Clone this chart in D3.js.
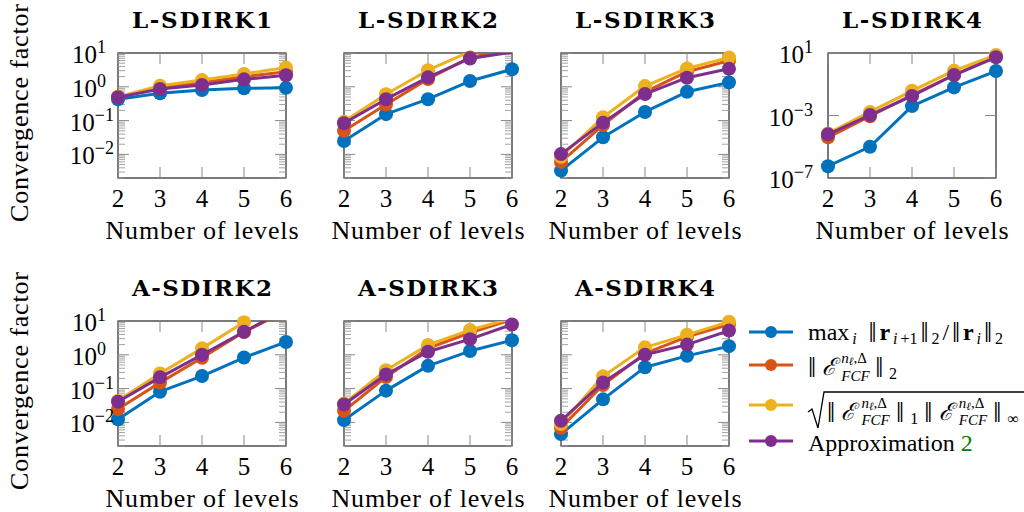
<!DOCTYPE html>
<html><head><meta charset="utf-8">
<script src="https://cdn.jsdelivr.net/npm/d3@7"></script>
<style>html,body{margin:0;padding:0;background:#fff;} svg{display:block}</style>
</head><body>
<svg id="chart" width="1024" height="512"></svg>
<script>
// ---------------- data ----------------
const levels = [2, 3, 4, 5, 6];
const methods = ["L-SDIRK1", "L-SDIRK2", "L-SDIRK3", "L-SDIRK4", "A-SDIRK2", "A-SDIRK3", "A-SDIRK4"];
// max_i ||r_{i+1}|| / ||r_i||
const residualRatio = [
  [0.43, 0.64, 0.80, 0.90, 0.93],
  [0.025, 0.155, 0.43, 1.48, 3.3],
  [0.0033, 0.032, 0.18, 0.71, 1.35],
  [5.7e-7, 1.0e-5, 4.0e-3, 0.063, 0.70],
  [0.0123, 0.081, 0.235, 0.83, 2.4],
  [0.0117, 0.087, 0.47, 1.29, 2.7],
  [0.0045, 0.048, 0.43, 0.93, 1.8]
];
// ||E_FCF||_2
const normTwo = [
  [0.50, 0.95, 1.35, 2.0, 2.8],
  [0.05, 0.30, 1.7, 7.4, 13],
  [0.006, 0.074, 0.70, 2.8, 5.9],
  [4.0e-5, 9.0e-4, 0.020, 0.39, 6.4],
  [0.025, 0.15, 0.82, 4.7, 20],
  [0.022, 0.22, 1.56, 4.5, 11],
  [0.0069, 0.128, 1.1, 3.4, 7.9]
];
// sqrt(||E||_1 ||E||_inf)
const normSqrtOneInf = [
  [0.51, 1.07, 1.58, 2.4, 3.7],
  [0.093, 0.60, 3.1, 11, 20],
  [0.0085, 0.125, 1.05, 3.5, 7.4],
  [7.0e-5, 1.7e-3, 0.038, 0.74, 7.5],
  [0.044, 0.28, 1.55, 9.2, 45],
  [0.036, 0.35, 1.95, 5.4, 12],
  [0.009, 0.23, 1.66, 3.9, 9.5]
];
// Approximation 2
const approximation = [
  [0.49, 0.86, 1.13, 1.66, 2.19],
  [0.083, 0.43, 1.9, 6.9, 10.5],
  [0.0102, 0.087, 0.61, 1.86, 3.4],
  [6.2e-5, 1.07e-3, 0.018, 0.39, 5.3],
  [0.041, 0.215, 1.0, 4.8, 22],
  [0.034, 0.26, 1.23, 2.9, 7.9],
  [0.0112, 0.152, 1.0, 2.0, 5.2]
];
const yDomainStandard = [2e-3, 10];
const yDomainWide = [1e-7, 10];
const yTickExpStandard = [1, 0, -1, -2];
const yTickExpWide = [1, -3, -7];
const xLabel = "Number of levels";
const yLabel = "Convergence factor";

// ---------------- font detection ----------------
function fontAvailable(name) {
  const ctx = document.createElement("canvas").getContext("2d");
  const s = "Number of levels 0123456789 SDIRK mwil";
  for (const base of ["monospace", "sans-serif", "serif"]) {
    ctx.font = "72px " + base;
    const w0 = ctx.measureText(s).width;
    ctx.font = `72px "${name}", ${base}`;
    const w1 = ctx.measureText(s).width;
    if (Math.abs(w1 - w0) > 0.5) return true;
  }
  return false;
}
const serifCandidates = ["Liberation Serif", "DejaVu Serif", "Noto Serif", "Tinos", "Times New Roman",
  "Nimbus Roman", "FreeSerif", "TeX Gyre Termes", "Latin Modern Roman", "Times"];
const boldCandidates = ["DejaVu Serif", "Liberation Serif", "Noto Serif", "Tinos", "Times New Roman", "FreeSerif"];
const serifFont = serifCandidates.find(fontAvailable);
const boldFont = boldCandidates.find(fontAvailable);
const SERIF = (serifFont ? `"${serifFont}", ` : "") + "serif";
const BOLDSERIF = (boldFont ? `"${boldFont}", ` : "") + "serif";

// ---------------- styling / layout ----------------
const colors = ["#0072BD", "#D95319", "#EDB120", "#7E2F8E"];
const seriesData = [residualRatio, normTwo, normSqrtOneInf, approximation];
const colLeft = [118, 344, 561, 828];
const rowTop = [53, 321];
const W = 168, H = 125;
const svg = d3.select("#chart");

function supLabel(sel, exp, size) {
  sel.append("tspan").style("font-size", size + "px").text("10");
  sel.append("tspan").style("font-size", (size * 0.72) + "px").attr("dy", -10)
    .text(exp < 0 ? "\u2212" + (-exp) : String(exp));
}

methods.forEach((name, i) => {
  const row = i < 4 ? 0 : 1;
  const col = i < 4 ? i : i - 4;
  const left = colLeft[col], top = rowTop[row];
  const wide = name === "L-SDIRK4";
  const dom = wide ? yDomainWide : yDomainStandard;
  const exps = wide ? yTickExpWide : yTickExpStandard;
  const showY = (i === 0 || i === 3 || i === 4);

  const x = d3.scaleLinear().domain([2, 6]).range([0, W]);
  const y = d3.scaleLog().domain(dom).range([H, 0]);
  const g = svg.append("g").attr("transform", `translate(${left},${top})`);

  g.append("clipPath").attr("id", "clip" + i)
    .append("rect").attr("width", W).attr("height", H);

  g.append("rect").attr("width", W).attr("height", H)
    .attr("fill", "none").attr("stroke", "#222").attr("stroke-width", 1.2);

  levels.forEach(l => {
    g.append("line").attr("x1", x(l)).attr("x2", x(l)).attr("y1", H).attr("y2", H - 11)
      .attr("stroke", "#888").attr("stroke-width", 1);
    g.append("line").attr("x1", x(l)).attr("x2", x(l)).attr("y1", 0).attr("y2", 11)
      .attr("stroke", "#888").attr("stroke-width", 1);
  });
  const majors = exps.map(e => Math.pow(10, e));
  majors.forEach(v => {
    const yy = y(v);
    g.append("line").attr("x1", 0).attr("x2", 11).attr("y1", yy).attr("y2", yy).attr("stroke", "#888");
    g.append("line").attr("x1", W - 11).attr("x2", W).attr("y1", yy).attr("y2", yy).attr("stroke", "#888");
  });
  if (!wide) {
    const minors = [];
    for (let e = -3; e <= 0; e++) for (let k = 2; k <= 9; k++) {
      const v = k * Math.pow(10, e);
      if (v >= dom[0] && v <= dom[1]) minors.push(v);
    }
    minors.forEach(v => {
      const yy = y(v);
      g.append("line").attr("x1", 0).attr("x2", 7).attr("y1", yy).attr("y2", yy).attr("stroke", "#999").attr("stroke-width", 0.9);
      g.append("line").attr("x1", W - 7).attr("x2", W).attr("y1", yy).attr("y2", yy).attr("stroke", "#999").attr("stroke-width", 0.9);
    });
  }

  const line = d3.line().x((d, k) => x(levels[k])).y(d => y(d));
  seriesData.forEach((arr, s) => {
    const vals = arr[i];
    g.append("path").datum(vals).attr("d", line)
      .attr("clip-path", `url(#clip${i})`)
      .attr("fill", "none").attr("stroke", colors[s]).attr("stroke-width", 3)
      .attr("stroke-linejoin", "round");
    g.selectAll(null).data(vals.map((v, k) => ({ v, l: levels[k] })).filter(d => d.v <= dom[1] && d.v >= dom[0]))
      .enter().append("circle")
      .attr("cx", d => x(d.l)).attr("cy", d => y(d.v)).attr("r", 7)
      .attr("fill", colors[s]);
  });

  svg.append("text").attr("x", left + W / 2).attr("y", top - 25)
    .attr("text-anchor", "middle").style("font-family", BOLDSERIF)
    .style("font-weight", "bold").style("font-size", "23px")
    .attr("textLength", 140).attr("lengthAdjust", "spacing")
    .text(name);

  levels.forEach(l => {
    svg.append("text").attr("x", left + x(l)).attr("y", top + H + 29)
      .attr("text-anchor", "middle").style("font-family", SERIF).style("font-size", "25px").text(l);
  });
  svg.append("text").attr("x", left + W / 2).attr("y", top + H + 61)
    .attr("text-anchor", "middle").style("font-family", SERIF).style("font-size", "26px")
    .attr("textLength", 193).attr("lengthAdjust", "spacing").text(xLabel);

  if (showY) {
    exps.forEach(e => {
      const yy = top + y(Math.pow(10, e));
      let endX;
      if (wide) endX = left - 15;
      else endX = e < 0 ? left - 4 : left - 12;
      const t = svg.append("text").attr("x", endX).attr("y", yy + 10)
        .attr("text-anchor", "end").style("font-family", SERIF);
      supLabel(t, e, 25);
    });
  }
});

[113, 381].forEach(cy => {
  svg.append("text").attr("transform", `translate(28,${cy}) rotate(-90)`)
    .attr("text-anchor", "middle").style("font-family", SERIF).style("font-size", "26px")
    .attr("textLength", 218).attr("lengthAdjust", "spacing").text(yLabel);
});

// ---------------- legend ----------------
const M = 24, S = 16, SC = 15, SS = 11, NB = 29;
const leg = svg.append("g");
function layoutMath(parent, x0, baseline, items, pad) {
  let xx = x0;
  items.forEach((it, idx) => {
    const extra = (pad && idx < items.length - 1) ? pad : 0;
    if (it.gap) { xx += it.gap + extra; return; }
    if (it.stack) {
      let w = 0;
      it.stack.forEach(sub => { w = Math.max(w, layoutMath(parent, xx, baseline, sub, 0) - xx); });
      xx += w + extra;
      return;
    }
    const t = parent.append("text").attr("x", xx).attr("y", baseline + (it.dy || 0))
      .style("font-family", it.family || SERIF).style("font-size", (it.size || M) + "px")
      .style("font-style", it.italic ? "italic" : "normal")
      .style("font-weight", it.bold ? "bold" : "normal")
      .attr("fill", it.fill || "#000").text(it.t);
    xx += t.node().getComputedTextLength() + (it.after || 0) + extra;
  });
  return xx;
}
function fitRow(x0, baseline, items, target) {
  const tmp = leg.append("g");
  const natural = layoutMath(tmp, x0, baseline, items, 0) - x0;
  tmp.remove();
  const pad = Math.max(0, (target - natural) / Math.max(1, items.length - 1));
  layoutMath(leg, x0, baseline, items, pad);
}
const NORM = "\u2016";
function normBlock(subText, subDy) {
  return [
    { t: NORM, size: NB, dy: 2 },
    { t: "\u2130", size: M, italic: true },
    { stack: [
      [{ t: "n", size: SC, italic: true, dy: -12 }, { t: "\u2113", size: SS, italic: true, dy: -10 }, { t: ",\u0394", size: SC, dy: -12 }],
      [{ t: "FCF", size: SC, italic: true, dy: subDy }]
    ] },
    { t: NORM, size: NB, dy: 2 },
    { t: subText, size: S, dy: 4 }
  ];
}
const legendRows = [332, 365, 405, 441];
const legendBase = [340, 375, 420, 451];
legendRows.forEach((ry, s) => {
  leg.append("line").attr("x1", 749).attr("x2", 793).attr("y1", ry).attr("y2", ry)
    .attr("stroke", colors[s]).attr("stroke-width", 3);
  leg.append("circle").attr("cx", 771).attr("cy", ry).attr("r", 6).attr("fill", colors[s]);
});
fitRow(808, legendBase[0], [
  { t: "max", size: M }, { t: "i", size: S, italic: true, dy: 4 }, { gap: 6 },
  { t: NORM, size: NB, dy: 2 }, { t: "r", size: M, bold: true }, { t: "i", size: S, italic: true, dy: 4 },
  { t: "+1", size: S, dy: 4 }, { t: NORM, size: NB, dy: 2 }, { t: "2", size: S, dy: 4 },
  { t: "/", size: M }, { t: NORM, size: NB, dy: 2 }, { t: "r", size: M, bold: true },
  { t: "i", size: S, italic: true, dy: 4 }, { t: NORM, size: NB, dy: 2 }, { t: "2", size: S, dy: 4 }
], 195);
fitRow(808, legendBase[1], normBlock("2", 6), 89);
leg.append("path").attr("d", "M808,412 L812,409 L818,428 L824,392 L1030,392")
  .attr("fill", "none").attr("stroke", "#000").attr("stroke-width", 1.3);
fitRow(827, legendBase[2], normBlock("1", 5).concat(normBlock("\u221E", 5)), 192);
fitRow(808, legendBase[3], [
  { t: "Approximation", size: M }, { gap: 6 }, { t: "2", size: M, fill: "#008000" }
], 0);
</script>
</body></html>
